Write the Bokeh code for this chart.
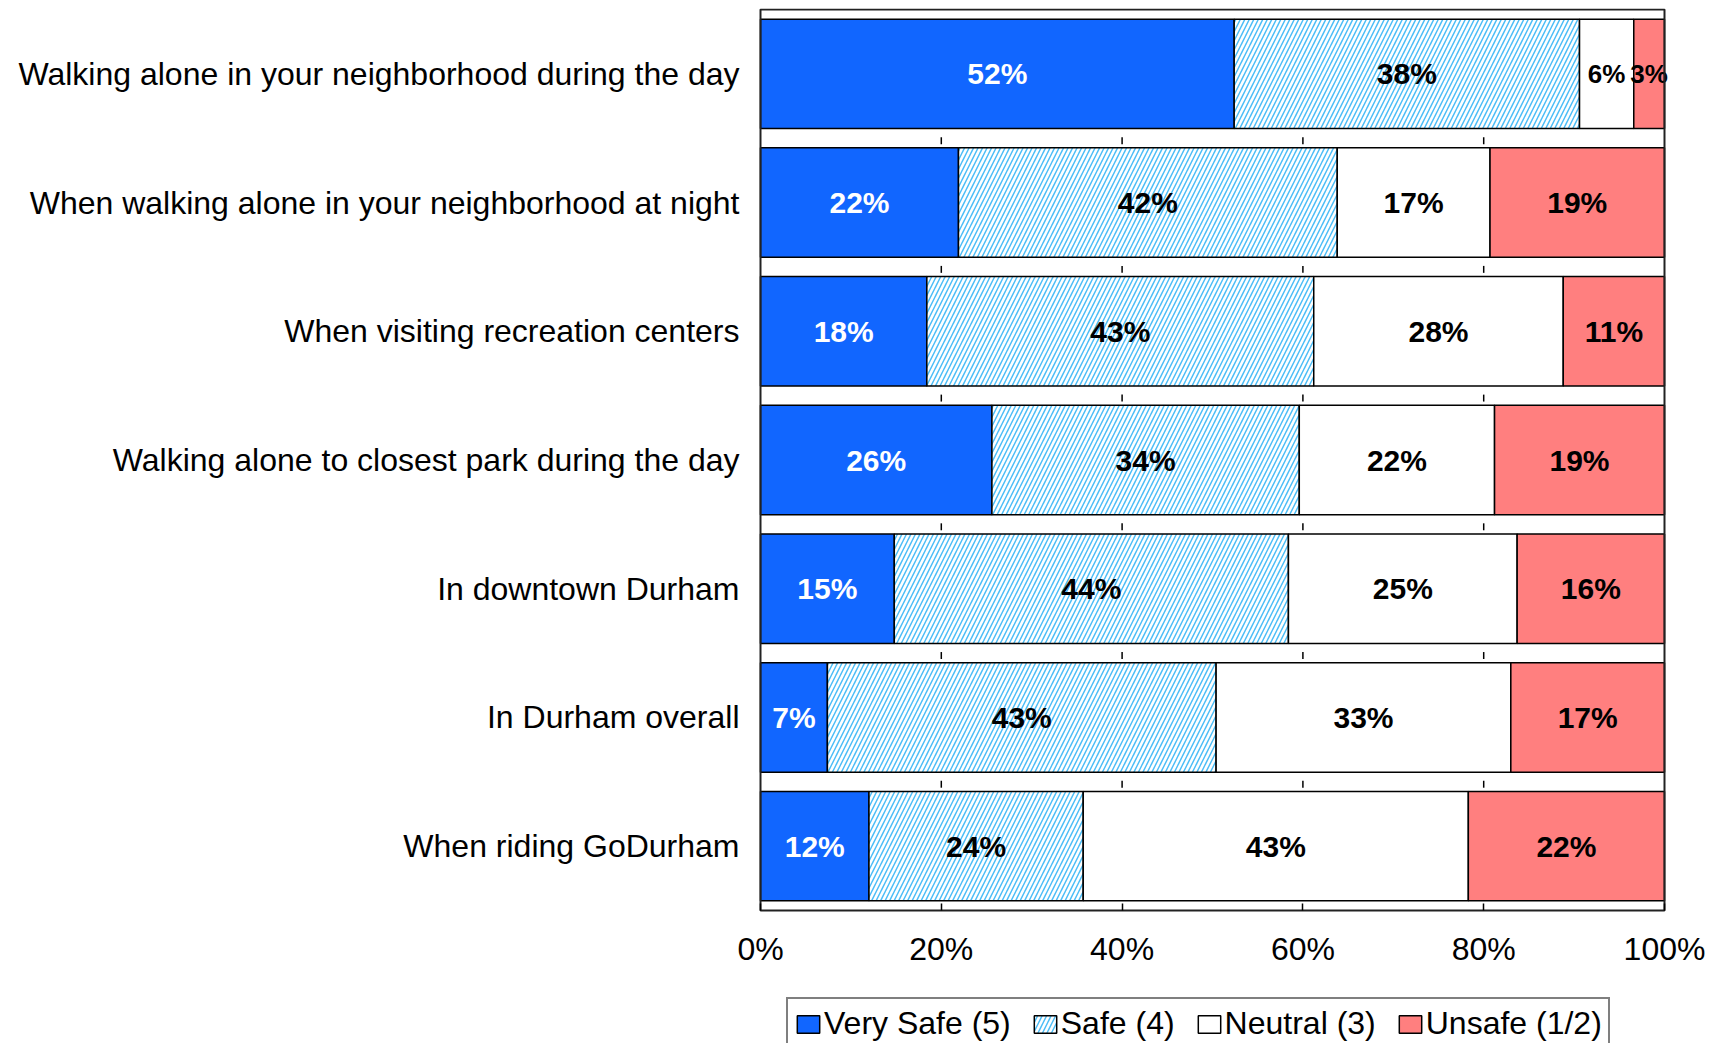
from bokeh.plotting import figure
from bokeh.models import (Range1d, FixedTicker, NumeralTickFormatter, ColumnDataSource,
                          Legend, LegendItem)
from bokeh.core.properties import value
from bokeh.embed import file_html
from bokeh.resources import INLINE

categories = [
    "Walking alone in your neighborhood during the day",
    "When walking alone in your neighborhood at night",
    "When visiting recreation centers",
    "Walking alone to closest park during the day",
    "In downtown Durham",
    "In Durham overall",
    "When riding GoDurham",
]
very_safe = [52.4, 21.9, 18.4, 25.6, 14.8, 7.4, 12.0]
safe = [38.2, 41.9, 42.8, 34.0, 43.6, 43.0, 23.7]
neutral = [6.0, 16.9, 27.6, 21.6, 25.3, 32.6, 42.6]
unsafe = [3.4, 19.3, 11.2, 18.8, 16.3, 17.0, 21.7]
series_names = ["Very Safe (5)", "Safe (4)", "Neutral (3)", "Unsafe (1/2)"]
x_ticks = [0, 0.2, 0.4, 0.6, 0.8, 1.0]

FONT = "Liberation Sans"
series = [very_safe, safe, neutral, unsafe]
styles = [
    dict(fill_color="#1166FF"),
    dict(fill_color="white", hatch_pattern="/", hatch_color="#4DBEF7",
         hatch_scale=9, hatch_weight=1.5),
    dict(fill_color="white"),
    dict(fill_color="#FF7F7F"),
]
label_colors = ["white", "black", "black", "black"]

n = len(categories)
ys = list(range(1, n + 1))
totals = [sum(s[i] for s in series) for i in range(n)]

# layout (pixels)
W, H = 1705, 1043
TOP, AREA_BOTTOM = 8, 909           # plot-area box, top and bottom
AREA_LEFT, AREA_RIGHT = 760, 1664   # plot-area box, left and right
px_per_row = (AREA_BOTTOM - TOP) / n
px_per_unit = AREA_RIGHT - AREA_LEFT
frame_h = H - TOP
y_top = ys[0] - 0.5 - 1 / px_per_row
y_bottom = y_top + frame_h / px_per_row
x_start = x_ticks[0] - AREA_LEFT / px_per_unit
x_end = x_ticks[-1] + (W - AREA_RIGHT) / px_per_unit

p = figure(width=W, height=H, output_backend="svg", toolbar_location=None,
           x_range=Range1d(x_start, x_end), y_range=Range1d(y_bottom, y_top),
           min_border_left=0, min_border_right=0,
           min_border_top=TOP, min_border_bottom=0)
p.xgrid.visible = False
p.ygrid.visible = False
p.outline_line_color = None
p.background_fill_color = "white"

items = []
cum = [0.0] * n
for k, (vals, name, st) in enumerate(zip(series, series_names, styles)):
    left = [cum[i] / totals[i] for i in range(n)]
    right = [(cum[i] + vals[i]) / totals[i] for i in range(n)]
    mid = [(l + r) / 2 for l, r in zip(left, right)]
    labels = [f"{round(v)}%" for v in vals]
    sizes = ["26px" if v < 7 else "30px" for v in vals]
    src = ColumnDataSource(dict(y=ys, left=left, right=right, mid=mid,
                                labels=labels, sizes=sizes))
    r = p.hbar(y="y", left="left", right="right", height=0.85, source=src,
               line_color="black", line_width=1.5, **st)
    items.append(LegendItem(label=name, renderers=[r]))
    # keep the label inside the plot area (Excel clips the narrow "3%")
    p.text(x="mid", y="y", text="labels", source=src, text_align="center",
           text_baseline="middle", text_font=value(FONT), text_font_style="bold",
           text_font_size="sizes", text_color=label_colors[k])
    cum = [cum[i] + vals[i] for i in range(n)]

# plot-area border
p.quad(left=[x_ticks[0]], right=[x_ticks[-1]], top=[ys[0] - 0.5], bottom=[ys[-1] + 0.5],
       fill_color=None, line_color="#222222", line_width=2)

# small tick marks in the gaps between bars
bounds = [y + 0.5 for y in ys[:-1]]
sx, sy0, sy1 = [], [], []
for b in bounds:
    for t in x_ticks[1:-1]:
        sx.append(t)
        sy0.append(b - 0.008)
        sy1.append(b + 0.046)
p.segment(x0=sx, x1=sx, y0=sy0, y1=sy1, line_color="black", line_width=1.5)

xa = p.xaxis[0]
xa.fixed_location = ys[-1] + 0.5
xa.ticker = FixedTicker(ticks=x_ticks)
xa.formatter = NumeralTickFormatter(format="0%")
xa.major_tick_in = 7
xa.major_tick_out = 0
xa.minor_tick_in = 0
xa.minor_tick_out = 0
xa.major_tick_line_width = 1.5
xa.major_tick_line_color = "black"
xa.axis_line_color = None
xa.major_label_standoff = 20
xa.major_label_text_font = FONT
xa.major_label_text_font_size = "32px"
xa.major_label_text_color = "black"

ya = p.yaxis[0]
ya.fixed_location = x_ticks[0]
ya.ticker = FixedTicker(ticks=ys)
ya.major_label_overrides = {y: c for y, c in zip(ys, categories)}
ya.major_tick_in = 0
ya.major_tick_out = 0
ya.minor_tick_in = 0
ya.minor_tick_out = 0
ya.axis_line_color = None
ya.major_label_standoff = 21
ya.major_label_text_font = FONT
ya.major_label_text_font_size = "32px"
ya.major_label_text_color = "black"

lg = Legend(items=items, orientation="horizontal", location=(786, -7))
lg.label_text_font = FONT
lg.label_text_font_size = "32px"
lg.label_text_color = "black"
lg.glyph_width = 28
lg.glyph_height = 22
lg.label_standoff = 2
lg.spacing = 20
lg.padding = 6
lg.margin = 0
lg.border_line_color = "black"
lg.border_line_width = 2
lg.background_fill_color = "white"
lg.background_fill_alpha = 1.0
p.add_layout(lg, "center")

open("out.html", "w").write(file_html(p, INLINE))
